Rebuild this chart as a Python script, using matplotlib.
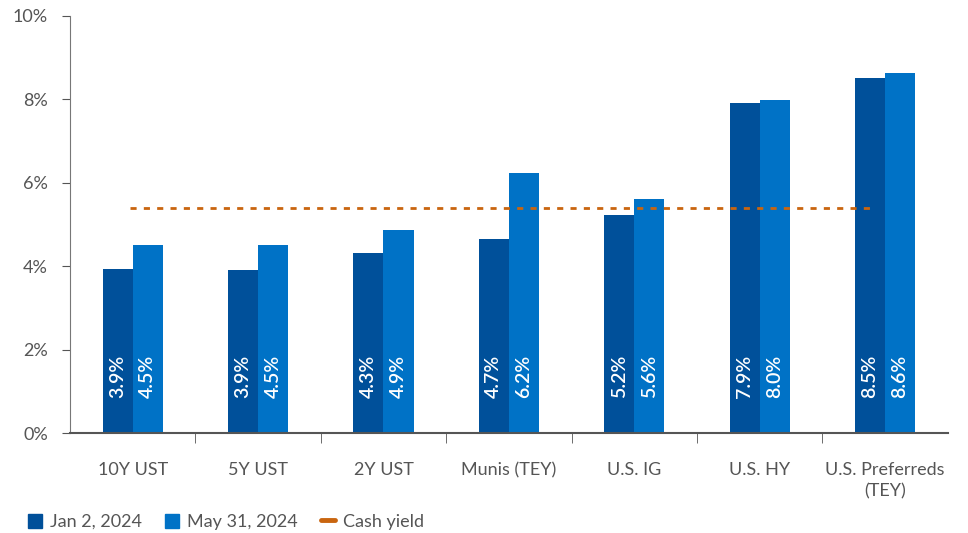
import numpy as np
import matplotlib.pyplot as plt
from matplotlib.patches import Patch
from matplotlib.lines import Line2D

plt.rcParams['font.family'] = ['Lato', 'DejaVu Sans']

categories = ['10Y UST', '5Y UST', '2Y UST', 'Munis (TEY)', 'U.S. IG', 'U.S. HY', 'U.S. Preferreds\n(TEY)']
jan_2024 = [3.93, 3.91, 4.32, 4.65, 5.23, 7.91, 8.51]
may_2024 = [4.51, 4.51, 4.87, 6.23, 5.61, 7.99, 8.63]
jan_labels = ['3.9%', '3.9%', '4.3%', '4.7%', '5.2%', '7.9%', '8.5%']
may_labels = ['4.5%', '4.5%', '4.9%', '6.2%', '5.6%', '8.0%', '8.6%']
cash_yield = 5.4

dark = '#00509A'
light = '#0072C6'
orange = '#C9650F'
grey = '#555555'

fig = plt.figure(figsize=(9.68, 5.33), dpi=100)
ax = fig.add_axes([0.0723, 0.1876, 0.9067, 0.7824])

x = np.arange(len(categories))
w = 0.24
ax.bar(x - w / 2, jan_2024, w, color=dark)
ax.bar(x + w / 2, may_2024, w, color=light)

for i in range(len(categories)):
    ax.text(x[i] - w / 2, 0.85, jan_labels[i], rotation=90, color='white',
            ha='center', va='bottom', fontsize=14, fontweight='semibold')
    ax.text(x[i] + w / 2, 0.85, may_labels[i], rotation=90, color='white',
            ha='center', va='bottom', fontsize=14, fontweight='semibold')

ax.plot([x[0] - 0.02, x[-1] - 0.08], [cash_yield, cash_yield], color=orange,
        lw=2, dashes=(2.2, 2.6))

ax.set_xlim(-0.5, len(categories) - 0.5)
ax.set_ylim(0, 10)
ax.set_yticks(np.arange(0, 11, 2))
ax.set_yticklabels([f'{v}%' for v in range(0, 11, 2)])

ax.set_xticks(x)
ax.set_xticklabels(categories, linespacing=1.4)
ax.set_xticks(np.arange(0.5, len(categories) - 0.5, 1), minor=True)
ax.tick_params(axis='x', which='major', length=0, pad=21, labelsize=13, labelcolor=grey)
ax.tick_params(axis='x', which='minor', length=7, color=grey, direction='out')
ax.tick_params(axis='y', length=6, color=grey, labelsize=13, labelcolor=grey, pad=10)

for s in ['top', 'right']:
    ax.spines[s].set_visible(False)
ax.spines['left'].set_color('#777777')
ax.spines['bottom'].set_color('#555555')
ax.spines['bottom'].set_linewidth(1.5)

handles = [
    Patch(color=dark, label='Jan 2, 2024'),
    Patch(color=light, label='May 31, 2024'),
    Line2D([0], [0], color=orange, lw=3.5, solid_capstyle='round', label='Cash yield'),
]
leg = fig.legend(handles=handles, loc='lower left', bbox_to_anchor=(0.012, -0.025), ncol=3,
                 frameon=False, fontsize=13, handlelength=0.8, handleheight=0.8,
                 handletextpad=0.4, columnspacing=1.3)
for t in leg.get_texts():
    t.set_color(grey)

fig.savefig('out.png', dpi=100)
